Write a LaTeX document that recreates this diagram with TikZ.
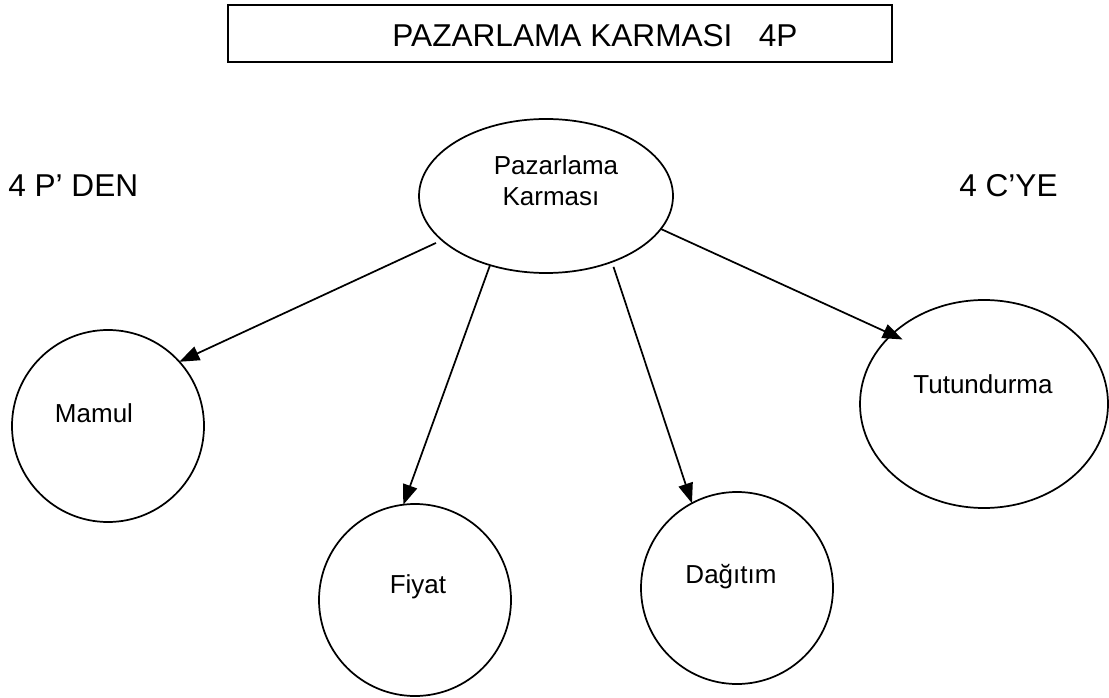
\documentclass[tikz,border=0pt]{standalone}
\usepackage{fontspec}
\setmainfont{Liberation Sans}
\usetikzlibrary{arrows.meta,shapes.geometric}

\tikzset{
  outline/.style={draw=black, line width=1.3pt, inner sep=0pt, outer sep=0pt},
  ring/.style={outline, circle, minimum size=144pt},
  bigtext/.style={font=\fontsize{23.7}{28}\selectfont, inner sep=0pt, anchor=base},
  smalltext/.style={font=\fontsize{19.5}{23}\selectfont, inner sep=0pt, anchor=base},
  arrow/.style={line width=1.3pt, -{Triangle[length=15pt,width=11pt]}}
}

\begin{document}
\begin{tikzpicture}[x=0.75pt, y=-0.75pt]
  \useasboundingbox (0,0) rectangle (1109,698);

  % title frame
  \node[draw=black, line width=1.7pt, minimum width=498pt, minimum height=42.75pt,
        inner sep=0pt] (frame) at (560,33.5) {};
  \node[bigtext] (title) at (595,47) {PAZARLAMA KARMASI\ \ \ 4P};

  % side captions
  \node[bigtext, anchor=base west] (from) at (8,197) {4 P’ DEN};
  \node[bigtext, anchor=base west] (to) at (959,197) {4 C’YE};

  % central ellipse
  \node[outline, ellipse, minimum width=190.5pt, minimum height=115.5pt] (pm) at (546,196) {};
  \node[smalltext] (pm1) at (556,175) {Pazarlama};
  \node[smalltext] (pm2) at (551,206) {Karması};

  % the four elements
  \node[ring] (mamul) at (108,426) {};
  \node[smalltext] (mamult) at (94,422) {Mamul};

  \node[ring] (fiyat) at (415,600) {};
  \node[smalltext] (fiyatt) at (418,593) {Fiyat};

  \node[ring] (dagitim) at (737,588) {};
  \node[smalltext] (dagitimt) at (731,583) {Dağıtım};

  \node[outline, ellipse, minimum width=186pt, minimum height=156pt] (tutun) at (984,404) {};
  \node[smalltext] (tutunt) at (983,393) {Tutundurma};

  % connectors
  \draw[arrow, shorten <=5pt] (pm.203.6) -- (mamul.42);
  \draw[arrow] (pm.231.7) -- (fiyat.97.8);
  \draw[arrow, shorten <=4pt] (pm.315.8) -- (dagitim.118.1);
  \draw[arrow, shorten >=-9pt] (pm.344.1) -- (tutun.143.7);
\end{tikzpicture}
\end{document}
